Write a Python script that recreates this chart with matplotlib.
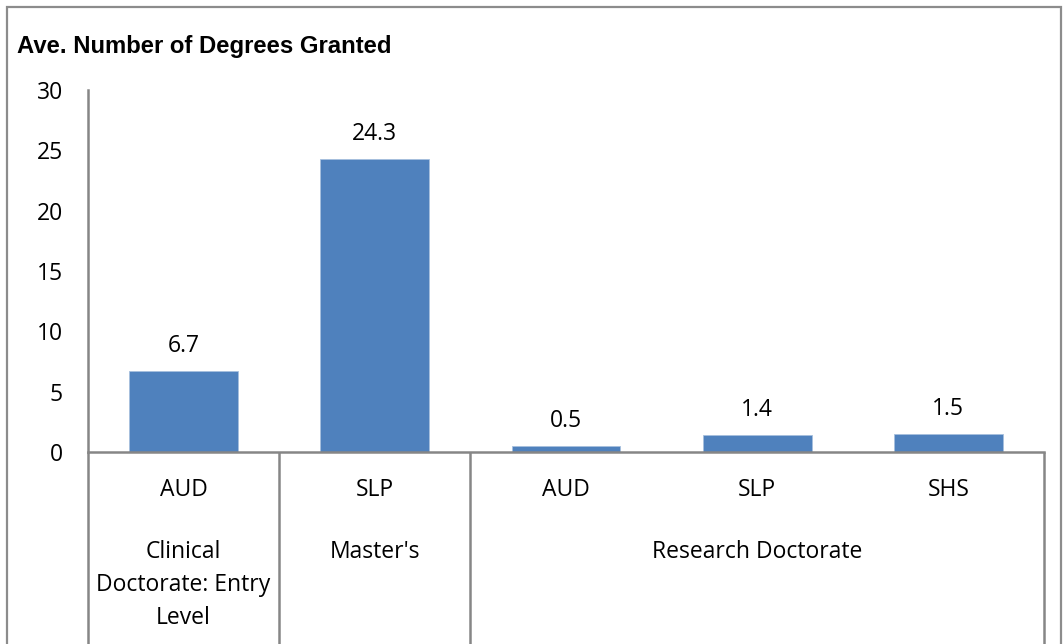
import matplotlib
matplotlib.use('Agg')
import matplotlib.pyplot as plt
import matplotlib.transforms as mtransforms
from matplotlib.patches import Rectangle

# data
programs = ['AUD', 'SLP', 'AUD', 'SLP', 'SHS']
values = [6.7, 24.3, 0.5, 1.4, 1.5]
groups = ["Clinical\nDoctorate: Entry\nLevel", "Master's", "Research Doctorate"]
group_sizes = [1, 1, 3]
yticks = [0, 5, 10, 15, 20, 25, 30]

W, H = 1063, 644
BAR = '#4F81BD'
GRID = '#868686'
FONT = 'Open Sans'
FS = 16.5

fig = plt.figure(figsize=(W / 100, H / 100), dpi=100)
fig.patch.set_facecolor('white')

#Outer chart border (bottom runs off the image)
fig.patches.append(Rectangle((7 / W, -0.1), (1061 - 7) / W, 1.1 - 7 / H,
                             transform=fig.transFigure, fill=False,
                             edgecolor='#8C8C8C', lw=1.6))

#Plot area
left, right, top, zero = 88, 1044, 90, 452
ax = fig.add_axes([left / W, (H - zero) / H, (right - left) / W, (zero - top) / H])
x = list(range(len(values)))
ax.bar(x, values, width=0.57, color=BAR, edgecolor='#A7C0DE', lw=0.6, zorder=2)
ax.set_xlim(-0.5, len(values) - 0.5)
ax.set_ylim(0, 30)
ax.set_yticks(yticks)
ax.set_yticklabels([str(t) for t in yticks], fontsize=FS, family=FONT)
ax.tick_params(axis='y', length=0, pad=18)
ax.set_xticks([])
for s in ['top', 'right']:
    ax.spines[s].set_visible(False)
for s in ['left', 'bottom']:
    ax.spines[s].set_color(GRID)
    ax.spines[s].set_linewidth(1.8)

#Value labels
for xi, v in zip(x, values):
    ax.annotate(f'{v:.1f}', (xi, v), xytext=(0, 13.5), textcoords='offset points',
                ha='center', va='baseline', fontsize=FS, family=FONT)

#Multi-level category axis
trans = mtransforms.blended_transform_factory(ax.transData, ax.transAxes)
px = 1.0 / (zero - top)
bounds = [-0.5]
for g in group_sizes:
    bounds.append(bounds[-1] + g)
for b in bounds:
    ax.plot([b, b], [0, -(H - zero + 5) * px], transform=trans, color=GRID,
            lw=1.8, clip_on=False, solid_capstyle='butt')

for xi, p in zip(x, programs):
    ax.text(xi, -38 * px, p, transform=trans, ha='center', va='center',
            fontsize=FS, family=FONT)

for i, g in enumerate(groups):
    mid = (bounds[i] + bounds[i + 1]) / 2.0
    ax.text(mid, -88 * px, g, transform=trans, ha='center', va='top',
            fontsize=FS, family=FONT, linespacing=1.5)

#Title
fig.text(17 / W, 1 - 46 / H, 'Ave. Number of Degrees Granted', ha='left',
         va='center', fontsize=17.2, fontweight='bold', family='Liberation Sans')

fig.savefig('out.png', dpi=100)
